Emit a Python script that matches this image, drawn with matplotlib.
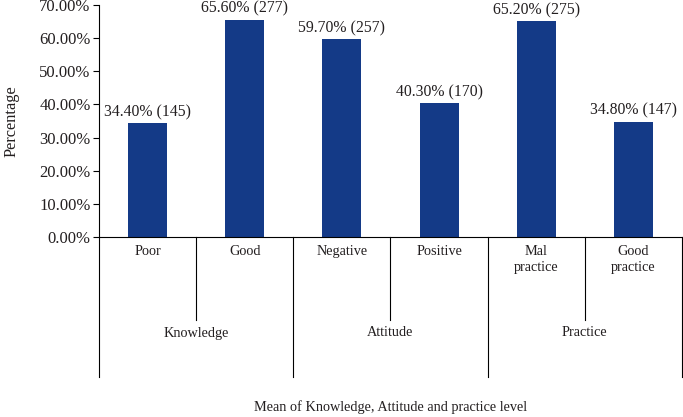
import matplotlib
matplotlib.use("Agg")
from matplotlib import pyplot as plt
import matplotlib.transforms as mtransforms

plt.rcParams['font.family'] = ['Liberation Serif', 'DejaVu Serif']
plt.rcParams['font.size'] = 10

levels = ["Poor", "Good", "Negative", "Positive", "Mal\npractice", "Good\npractice"]
groups = ["Knowledge", "Attitude", "Practice"]
percent = [34.4, 65.6, 59.7, 40.3, 65.2, 34.8]
counts = [145, 277, 257, 170, 275, 147]

bar_color = '#143a87'
text_color = '#231f20'

fig = plt.figure(figsize=(6.83, 4.17), dpi=100)
ax = fig.add_axes([99/683, 180/417, 583/683, 232/417])

xs = list(range(len(levels)))
rects = ax.bar(xs, percent, width=0.4, color=bar_color)
for rect, p, c in zip(rects, percent, counts):
    ax.annotate('%.2f%% (%d)' % (p, c), (rect.get_x() + rect.get_width()/2., rect.get_height()),
                xytext=(0, 2), textcoords='offset points', ha='center', va='bottom',
                color=text_color, fontsize=11.3)

ax.set_xlim(-0.5, len(levels) - 0.5)
ax.set_ylim(0, 70)
ax.set_yticks(range(0, 71, 10))
ax.set_yticklabels(['%.2f%%' % v for v in range(0, 71, 10)], color=text_color, fontsize=12)
ax.set_xticks([])
ax.spines['top'].set_visible(False)
ax.spines['right'].set_visible(False)
ax.tick_params(axis='y', length=4, width=0.8, color='black', pad=2)
ax.set_ylabel("Percentage", color=text_color, fontsize=11.8)
ax.yaxis.set_label_coords(-79/583, 0.5)

# category table under the axis
trans = mtransforms.blended_transform_factory(ax.transData, ax.transAxes)
px = 1.0 / (232)  # one pixel in axes fraction
for i in range(len(levels) + 1):
    b = i - 0.5
    depth = 140 if i % 2 == 0 else 83
    ax.plot([b, b], [0, -depth * px], transform=trans, color='black', lw=0.8, clip_on=False)

for x, lab in zip(xs, levels):
    ax.text(x, -8 * px, lab, transform=trans, ha='center', va='top', color=text_color,
            linespacing=1.3, fontsize=10.3)

for g, name in enumerate(groups):
    ax.text(2 * g + 0.5, -96 * px, name, transform=trans, ha='center', va='center',
            color=text_color, fontsize=10.3)

ax.text(2.5, -170 * px, "Mean of Knowledge, Attitude and practice level", transform=trans,
        ha='center', va='center', color=text_color, fontsize=10.3)

plt.savefig('out.png', dpi=100)
